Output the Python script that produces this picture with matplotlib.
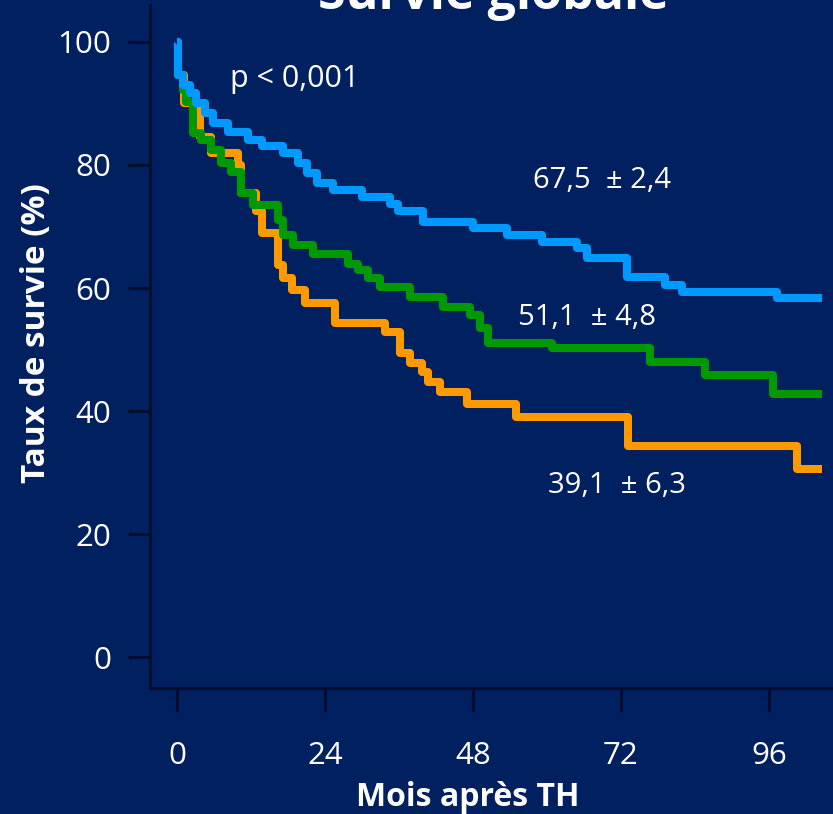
import matplotlib
matplotlib.use('Agg')
import matplotlib.pyplot as plt

plt.rcParams['font.family'] = ['Open Sans', 'DejaVu Sans']

# Kaplan-Meier steps: time of event (months) and survival (%) after it
blue_t = [0, 0.1, 1.0, 2.1, 3.1, 4.5, 5.8, 8.3, 11.5, 13.8, 17.2, 19.6, 21.1, 22.7,
          25.3, 30.0, 34.5, 35.8, 39.9, 48.0, 53.5, 59.2, 64.9, 66.5, 73.0, 79.1,
          81.9, 97.3]
blue_s = [100, 94.6, 93.0, 91.7, 90.1, 88.5, 86.8, 85.4, 84.1, 83.1, 82.0, 80.3, 78.7,
          77.1, 76.0, 74.8, 73.7, 72.6, 70.7, 69.8, 68.6, 67.5, 66.5, 64.9, 61.8,
          60.5, 59.3, 58.4]

green_t = [0, 0.1, 1.0, 1.5, 2.6, 3.9, 5.5, 7.1, 8.8, 10.4, 12.3, 16.4, 17.2, 18.8,
           22.1, 27.7, 29.4, 31.0, 32.9, 37.8, 43.1, 47.5, 49.1, 50.4, 60.8, 76.7,
           85.6, 96.6]
green_s = [100, 94.6, 92.2, 90.2, 85.2, 84.1, 82.4, 80.3, 78.9, 75.4, 73.5, 71.1, 68.6,
           67.0, 65.5, 63.9, 62.9, 61.6, 60.2, 58.5, 56.9, 55.6, 53.5, 51.1, 50.2,
           48.0, 45.9, 42.8]

orange_t = [0, 0.1, 1.1, 3.8, 5.5, 9.9, 10.4, 12.8, 13.8, 16.4, 17.2, 18.6, 20.8,
            25.6, 33.7, 36.2, 37.8, 39.7, 40.7, 42.6, 47.0, 55.0, 73.1, 100.5]
orange_s = [100, 94.6, 90.1, 84.6, 82.0, 80.0, 75.4, 72.5, 68.9, 63.7, 61.6, 59.7, 57.6,
            54.3, 52.8, 49.4, 47.8, 46.3, 44.7, 43.1, 41.1, 39.1, 34.3, 30.6]

end_month = 104.6

# 5-year survival estimates
five_year = ['67,5', '51,1', '39,1']
five_year_se = ['2,4', '4,8', '6,3']

x_ticks = [0, 24, 48, 72, 96]
y_ticks = [0, 20, 40, 60, 80, 100]

bg = '#002060'
spine_col = '#000c30'
colors = {'blue': '#0099ff', 'green': '#009900', 'orange': '#ff9900'}

fig = plt.figure(figsize=(8.33, 8.14), dpi=100, facecolor=bg)
ax = fig.add_axes([150 / 833, 126 / 814, 683 / 833, 683 / 814])
ax.set_facecolor(bg)

for t, s, c, z in [(orange_t, orange_s, colors['orange'], 2),
                   (green_t, green_s, colors['green'], 3),
                   (blue_t, blue_s, colors['blue'], 4)]:
    ax.step(t + [end_month], s + [s[-1]], where='post', color=c, lw=5.8,
            solid_joinstyle='round', solid_capstyle='butt', zorder=z)

ax.set_xlim(-4.38, 106.4)
ax.set_ylim(-5.0, 106.0)
ax.set_xticks(x_ticks)
ax.set_yticks(y_ticks)

for side in ['top', 'right']:
    ax.spines[side].set_visible(False)
for side in ['left', 'bottom']:
    ax.spines[side].set_color(spine_col)
    ax.spines[side].set_linewidth(2.2)

ax.tick_params(axis='y', direction='out', length=16, width=2.2, color=spine_col,
               labelcolor='white', labelsize=22.5, pad=12)
ax.tick_params(axis='x', direction='out', length=17, width=2.2, color=spine_col,
               labelcolor='white', labelsize=22.5, pad=21)

ax.set_xlabel('Mois après TH', color='white', fontsize=23, fontweight='bold', labelpad=7)
ax.set_ylabel('Taux de survie (%)', color='white', fontsize=24, fontweight='bold', labelpad=3)
ax.xaxis.label.set_x((468 - 150) / 683)
ax.yaxis.label.set_y((688 - 333) / 683)

# annotations
ax.text(8.6, 92.7, 'p < 0,001', color='white', fontsize=22, va='baseline')
lab_pos = [(57.7, 76.3), (55.3, 54.0), (60.2, 26.7)]
for (x, y), v, se in zip(lab_pos, five_year, five_year_se):
    ax.text(x, y, v + '  \u00b1 ' + se, color='white', fontsize=21, va='baseline')

fig.text(0.592, 1 - 9 / 814, 'Survie globale', color='white', fontsize=36,
         fontweight='bold', ha='center', va='baseline')

fig.savefig('out.png', dpi=100, facecolor=bg)
